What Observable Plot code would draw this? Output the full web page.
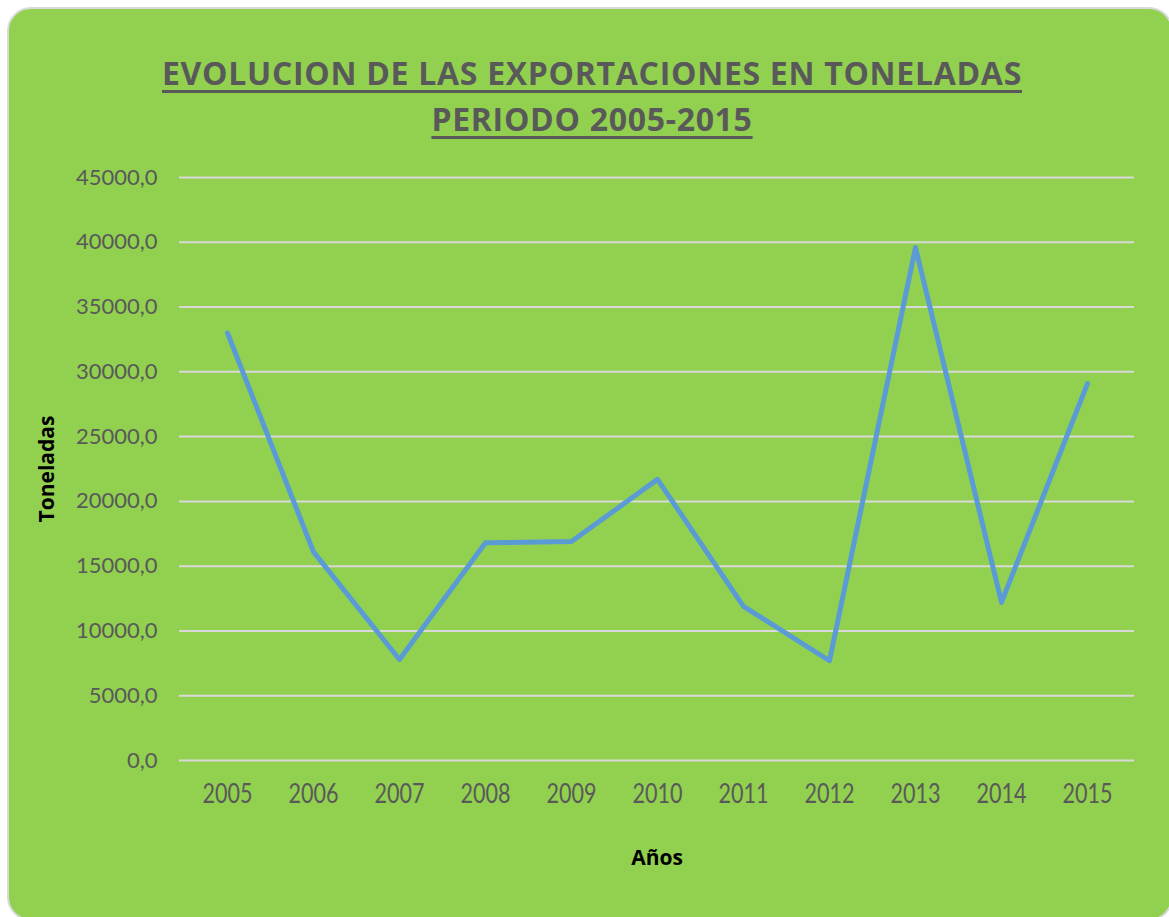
<!DOCTYPE html>
<html>
<head>
<meta charset="utf-8">
<script src="https://cdn.jsdelivr.net/npm/d3@7"></script>
<script src="https://cdn.jsdelivr.net/npm/@observablehq/plot@0.6"></script>
<style>
  html, body { margin: 0; padding: 0; background: #ffffff; overflow: hidden; width: 1169px; height: 917px; position: relative; }
  #card {
    position: absolute; left: 7px; top: 7px; width: 1166px; height: 914px;
    background: #92D050; border: 2px solid #d9d9d9; border-radius: 24px; box-sizing: border-box;
  }
  #title {
    position: absolute; left: 0; top: 50px; width: 1184px; text-align: center;
    font-family: "Open Sans", sans-serif; font-weight: 700; font-size: 32px; line-height: 46px; letter-spacing: 0.7px;
    color: #595959; text-decoration: underline; text-decoration-thickness: 3px; text-underline-offset: 5px;
  }
  #chart { position: absolute; left: 0; top: 150px; }
</style>
</head>
<body>
<div id="card"></div>
<div id="title">EVOLUCION DE LAS EXPORTACIONES EN TONELADAS<br>PERIODO 2005-2015</div>
<div id="chart"></div>
<script>
const years = ["2005","2006","2007","2008","2009","2010","2011","2012","2013","2014","2015"];
const toneladas = [33000, 16100, 7800, 16800, 16900, 21700, 11900, 7700, 39600, 12200, 29100];
const yTicks = [0, 5000, 10000, 15000, 20000, 25000, 30000, 35000, 40000, 45000];
const yTitle = "Toneladas";
const xTitle = "Años";

const data = years.map((y, i) => ({year: y, value: toneladas[i]}));
const fmt = d => d.toFixed(1).replace(".", ",");

const chart = Plot.plot({
  width: 1169,
  height: 760,
  marginLeft: 179,
  marginRight: 35,
  marginTop: 27,
  marginBottom: 150,
  style: {background: "transparent", fontFamily: "Lato, 'Open Sans', sans-serif", fontSize: "17px", color: "#595959", overflow: "visible"},
  x: {type: "point", domain: years, padding: 0.5, label: null},
  y: {domain: [0, 45000], label: null},
  marks: [
    Plot.ruleY(yTicks, {stroke: "#d9d9d9", strokeWidth: 2}),
    Plot.axisY(yTicks, {tickSize: 0, tickPadding: 22, tickFormat: fmt, fill: "#595959", fontSize: 22, label: null}),
    Plot.axisX(years, {tickSize: 0, tickPadding: 24, fill: "#595959", fontSize: 26, label: null}),
    Plot.line(data, {x: "year", y: "value", stroke: "#5B9BD5", strokeWidth: 5, strokeLinejoin: "round", strokeLinecap: "round"}),
    Plot.text([yTitle], {frameAnchor: "left", dx: -132, rotate: -90, text: d => d, fontWeight: "bold", fontSize: 21, fill: "#000000", textAnchor: "middle", lineAnchor: "middle", fontFamily: "'Open Sans', sans-serif"}),
    Plot.text([xTitle], {frameAnchor: "bottom", dy: 98, text: d => d, fontWeight: "bold", fontSize: 21, fill: "#000000", textAnchor: "middle", lineAnchor: "middle", fontFamily: "'Open Sans', sans-serif"})
  ]
});
// compress the year labels horizontally, as in the reference
d3.select(chart).selectAll('g[aria-label="x-axis tick label"] text')
  .attr("textLength", 50).attr("lengthAdjust", "spacingAndGlyphs");
document.getElementById("chart").appendChild(chart);
</script>
</body>
</html>
